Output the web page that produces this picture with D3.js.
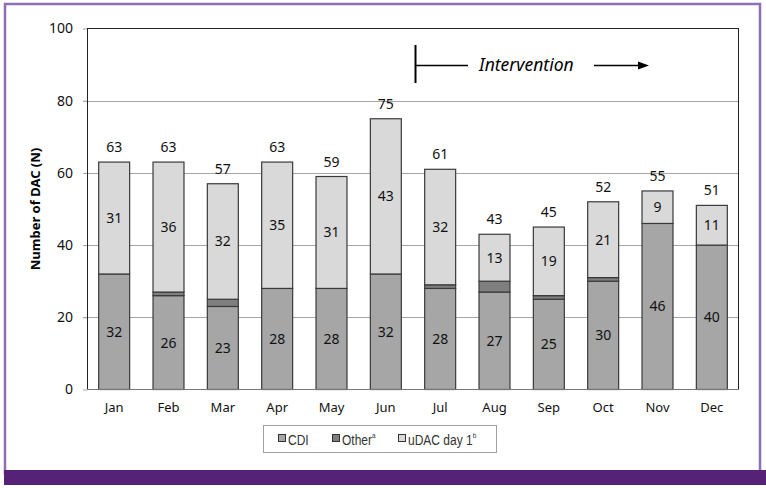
<!DOCTYPE html>
<html>
<head>
<meta charset="utf-8">
<script src="https://cdn.jsdelivr.net/npm/d3@7"></script>
<style>
  body { margin: 0; background: #fff; }
  svg { display: block; }
</style>
</head>
<body>
<div id="chart"></div>
<script>
// monthly counts
var months = ["Jan", "Feb", "Mar", "Apr", "May", "Jun", "Jul", "Aug", "Sep", "Oct", "Nov", "Dec"];
var cdi   = [32, 26, 23, 28, 28, 32, 28, 27, 25, 30, 46, 40];
var other = [0, 1, 2, 0, 0, 0, 1, 3, 1, 1, 0, 0];
var udac  = [31, 36, 32, 35, 31, 43, 32, 13, 19, 21, 9, 11];
var totals = [63, 63, 57, 63, 59, 75, 61, 43, 45, 52, 55, 51];
var yTicks = [0, 20, 40, 60, 80, 100];

var width = 766, height = 488;
var svg = d3.select("#chart").append("svg")
  .attr("width", width)
  .attr("height", height);

// purple frame
svg.append("rect")
  .attr("x", 5).attr("y", 4)
  .attr("width", 755).attr("height", 470)
  .attr("fill", "none")
  .attr("stroke", "#8d70b3")
  .attr("stroke-width", 2.5);
svg.append("rect")
  .attr("x", 4).attr("y", 470)
  .attr("width", 762).attr("height", 15)
  .attr("fill", "#562277");

// note: "top" is reserved on window, so plot edges get their own names
var plotLeft = 87, plotRight = 739, plotTop = 28.5, plotBottom = 389.5;

var x = d3.scaleBand().domain(months).range([plotLeft, plotRight]).paddingInner(0.43).paddingOuter(0.215);
var y = d3.scaleLinear().domain([0, 100]).range([plotBottom, plotTop]);

// gridlines
svg.append("g").selectAll("line")
  .data(yTicks.slice(1, 5))
  .enter().append("line")
  .attr("x1", plotLeft - 4).attr("x2", plotRight)
  .attr("y1", function(d){ return Math.round(y(d)) + 0.5; })
  .attr("y2", function(d){ return Math.round(y(d)) + 0.5; })
  .attr("stroke", "#a6a6a6");

// y axis tick labels
var yAxis = svg.append("g")
  .attr("transform", "translate(" + plotLeft + ",0)")
  .call(d3.axisLeft(y).tickValues(yTicks).tickSize(4).tickPadding(10));
yAxis.select(".domain").remove();
yAxis.selectAll("line").attr("stroke", "#a6a6a6");
yAxis.selectAll("text")
  .style("font-family", "'Noto Sans', sans-serif")
  .style("font-size", "14px")
  .attr("fill", "#111");

svg.append("text")
  .attr("transform", "translate(40," + ((plotTop + plotBottom) / 2) + ") rotate(-90)")
  .attr("text-anchor", "middle")
  .style("font-family", "'Noto Sans', sans-serif")
  .style("font-size", "13px")
  .style("font-weight", "bold")
  .text("Number of DAC (N)");

// x labels
var xAxis = svg.append("g")
  .attr("transform", "translate(0," + plotBottom + ")")
  .call(d3.axisBottom(x).tickSize(0).tickPadding(13));
xAxis.select(".domain").remove();
xAxis.selectAll("text")
  .style("font-family", "'Noto Sans', sans-serif")
  .style("font-size", "13px")
  .attr("fill", "#111");

// stacked bars
var rows = months.map(function(m, i){
  return { month: m, cdi: cdi[i], other: other[i], udac: udac[i] };
});
var stack = d3.stack().keys(["cdi", "other", "udac"]);
var series = stack(rows);
var fills = { cdi: "#a6a6a6", other: "#7f7f7f", udac: "#d9d9d9" };

series.forEach(function(s){
  svg.append("g").selectAll("rect")
    .data(s.filter(function(d){ return d[1] > d[0]; }))
    .enter().append("rect")
    .attr("x", function(d){ return x(d.data.month); })
    .attr("width", x.bandwidth())
    .attr("y", function(d){ return y(d[1]); })
    .attr("height", function(d){ return y(d[0]) - y(d[1]); })
    .attr("fill", fills[s.key])
    .attr("stroke", "#3a3a3a")
    .attr("stroke-width", 1.2);
});

var labelFont = "'Noto Sans', sans-serif";
// segment labels
[series[0], series[2]].forEach(function(s){
  svg.append("g").selectAll("text")
    .data(s)
    .enter().append("text")
    .attr("x", function(d){ return x(d.data.month) + x.bandwidth() / 2; })
    .attr("y", function(d){ return (y(d[0]) + y(d[1])) / 2 + 5; })
    .attr("text-anchor", "middle")
    .style("font-family", labelFont)
    .style("font-size", "14px")
    .attr("fill", "#111")
    .text(function(d){ return d.data[s.key]; });
});

// totals
svg.append("g").selectAll("text")
  .data(totals)
  .enter().append("text")
  .attr("x", function(d, i){ return x(months[i]) + x.bandwidth() / 2; })
  .attr("y", function(d){ return y(d) - 10; })
  .attr("text-anchor", "middle")
  .style("font-family", labelFont)
  .style("font-size", "14px")
  .attr("fill", "#111")
  .text(function(d){ return d; });

// plot border
svg.append("line").attr("x1", plotLeft + 0.5).attr("x2", plotLeft + 0.5).attr("y1", plotTop).attr("y2", plotBottom).attr("stroke", "#222");
svg.append("line").attr("x1", plotLeft).attr("x2", plotRight).attr("y1", plotTop).attr("y2", plotTop).attr("stroke", "#222");
svg.append("line").attr("x1", plotRight - 0.5).attr("x2", plotRight - 0.5).attr("y1", plotTop).attr("y2", plotBottom).attr("stroke", "#222");
svg.append("line").attr("x1", plotLeft).attr("x2", plotRight).attr("y1", plotBottom).attr("y2", plotBottom).attr("stroke", "#777");

// intervention marker
var ix = 415.5, iy = 65.5;
svg.append("line").attr("x1", ix).attr("x2", ix).attr("y1", 45).attr("y2", 83).attr("stroke", "#000").attr("stroke-width", 2);
svg.append("line").attr("x1", ix).attr("x2", 468).attr("y1", iy).attr("y2", iy).attr("stroke", "#000").attr("stroke-width", 1.5);
svg.append("text")
  .attr("x", 479).attr("y", 71)
  .style("font-family", "'Noto Sans', sans-serif")
  .style("font-size", "17.5px")
  .style("font-style", "italic")
  .attr("fill", "#000")
  .text("Intervention");
svg.append("line").attr("x1", 594).attr("x2", 640).attr("y1", iy).attr("y2", iy).attr("stroke", "#000").attr("stroke-width", 1.5);
svg.append("path")
  .attr("d", "M638," + (iy - 4) + " L649," + iy + " L638," + (iy + 4) + " Z")
  .attr("fill", "#000");

// legend
var legend = svg.append("g");
legend.append("rect")
  .attr("x", 263.5).attr("y", 425.5)
  .attr("width", 233).attr("height", 27)
  .attr("fill", "#fff")
  .attr("stroke", "#a0a0a0");
var legendItems = [
  { name: "CDI", sup: "", key: "cdi", x: 278 },
  { name: "Other", sup: "a", key: "other", x: 332 },
  { name: "uDAC day 1", sup: "b", key: "udac", x: 398 }
];
legendItems.forEach(function(it){
  legend.append("rect")
    .attr("x", it.x + 0.5).attr("y", 434.5)
    .attr("width", 7).attr("height", 7)
    .attr("fill", fills[it.key])
    .attr("stroke", "#333");
  // condensed look, like the narrow font of the original legend
  var t = legend.append("g")
    .attr("transform", "translate(" + (it.x + 10) + ",445) scale(0.8,1)")
    .append("text")
    .style("font-family", "'Liberation Sans', sans-serif")
    .style("font-size", "15px")
    .attr("fill", "#333")
    .text(it.name);
  if (it.sup) {
    t.append("tspan")
      .attr("dy", -7)
      .style("font-size", "8px")
      .text(it.sup);
  }
});
</script>
</body>
</html>
